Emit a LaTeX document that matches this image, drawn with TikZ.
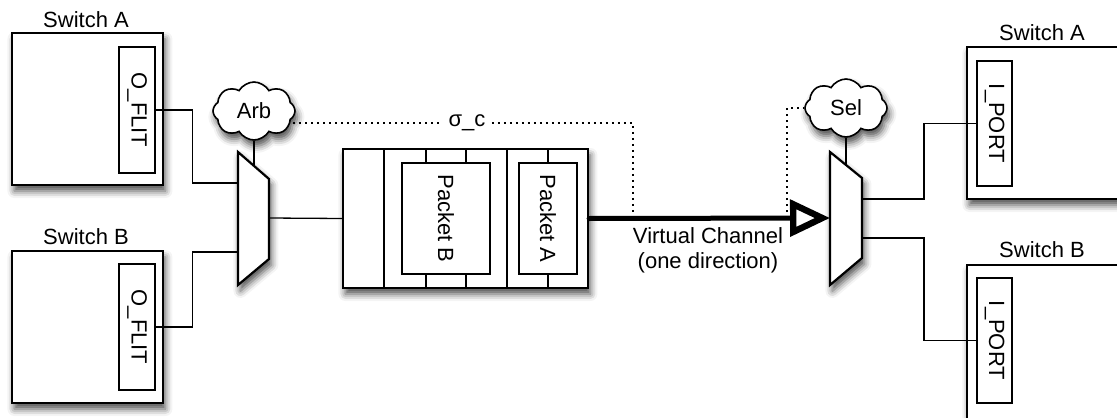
\documentclass[tikz,border=0pt]{standalone}
\usepackage{fontspec}
\setmainfont{Liberation Sans}
\usepackage{graphicx}
\usetikzlibrary{arrows.meta,shapes.symbols,shadows.blur}

\tikzset{
  shade/.style={blur shadow={shadow xshift=1.2pt,shadow yshift=-3pt,shadow blur radius=3.5pt,shadow opacity=70}},
  switch/.style={draw,line width=1.1pt,fill=white,shade,minimum width=75.5pt,minimum height=76pt,inner sep=0pt},
  port/.style={draw,line width=0.8pt,fill=white,minimum width=18pt,minimum height=63pt,inner sep=0pt},
  pkt/.style={draw,line width=0.8pt,fill=white,minimum height=55.5pt,inner sep=0pt},
  ctrl/.style={cloud,cloud puffs=8,cloud puff arc=120,aspect=1.4,draw,line width=0.8pt,fill=white,shade,
    minimum width=41pt,minimum height=29pt,inner sep=0pt},
  mux/.style={draw,line width=1.1pt,fill=white,shade},
  wire/.style={line width=0.65pt},
  sig/.style={line width=0.8pt,dash pattern=on 0.9pt off 2.1pt},
  vc/.style={line width=2.5pt,line cap=round,-{Triangle[open,length=20pt,width=18pt,line width=3.2pt]}}
}

\begin{document}
\begin{tikzpicture}[x=0.5pt,y=-0.5pt,font=\fontsize{11}{12.5}\selectfont]
  \useasboundingbox (0,0) rectangle (1117,417);
  \clip (0,0) rectangle (1117,417);

  \node[switch] (swa) at (87.5,109) {};
  \node (swalbl) at (86,20) {Switch A};
  \node[port] (oa) at (137,110) {\rotatebox{-90}{O\_FLIT}};
  \node[switch] (swb) at (87.5,327) {};
  \node (swblbl) at (86,237) {Switch B};
  \node[port] (ob) at (137,327) {\rotatebox{-90}{O\_FLIT}};

  \node[switch,minimum width=86.5pt] (sra) at (1053.5,123) {};
  \node (sralbl) at (1042,33) {Switch A};
  \node[port,minimum width=17.5pt,minimum height=62.5pt] (ia) at (994.5,123.5) {\rotatebox{-90}{I\_PORT}};
  \node[switch,minimum width=86.5pt,minimum height=82.5pt] (srb) at (1053.5,347.5) {};
  \node (srblbl) at (1042,250) {Switch B};
  \node[port,minimum width=17.5pt,minimum height=62.5pt] (ib) at (994.5,340.5) {\rotatebox{-90}{I\_PORT}};

  \node[ctrl] (arb) at (254,111) {Arb};
  \node[ctrl] (sel) at (846,108) {Sel};

  \draw[mux] (238,152) -- (269,179) -- (269,259) -- (238,285) -- cycle;
  \coordinate (mxa-in1) at (238,183);
  \coordinate (mxa-in2) at (238,252);
  \coordinate (mxa-out) at (269,218);
  \coordinate (mxa-top) at (254,166);

  \draw[mux] (830,152) -- (862,178) -- (862,258) -- (830,285) -- cycle;
  \coordinate (mxs-in) at (830,218);
  \coordinate (mxs-out1) at (862,199);
  \coordinate (mxs-out2) at (862,238);
  \coordinate (mxs-top) at (846,165);

  \node[draw,line width=1.1pt,fill=white,shade,minimum width=122.5pt,minimum height=69.5pt,inner sep=0pt] (buf) at (465.5,218.5) {};
  \draw[wire] (384,149) -- (384,288) (507,149) -- (507,288);
  \foreach \x in {426,466,548}
    \draw[wire] (\x,149) -- (\x,163) (\x,274) -- (\x,288);
  \node[pkt,minimum width=44pt] (pb) at (446,218.5) {\rotatebox{-90}{Packet B}};
  \node[pkt,minimum width=29pt] (pa) at (548,218.5) {\rotatebox{-90}{Packet A}};

  \draw[wire] (oa.east) -- ++(37,0) |- (mxa-in1);
  \draw[wire] (ob.east) -- ++(37,0) |- (mxa-in2);
  \draw[wire] (mxa-out) -- (buf.west);
  \draw[wire] (arb.south) -- (mxa-top);
  \draw[wire] (sel.south) -- (mxs-top);
  \draw[wire] (mxs-out1) -- ++(62,0) |- (ia.west);
  \draw[wire] (mxs-out2) -- ++(62,0) |- (ib.west);

  \coordinate (arbtap) at (293,123);
  \coordinate (vctap) at (633,212);
  \coordinate (seltap) at (787,212);
  \node[fill=white,inner sep=3pt] (sigc) at (467,123) {σ\_c};
  \draw[sig] (arbtap) -- (sigc.west);
  \draw[sig] (sigc.east) -| (vctap);
  \draw[sig] (seltap) |- (sel.west);

  \draw[vc] (buf.east) -- (mxs-in);
  \node[align=center] (vclbl) at (708,250) {Virtual Channel\\(one direction)};
\end{tikzpicture}
\end{document}
